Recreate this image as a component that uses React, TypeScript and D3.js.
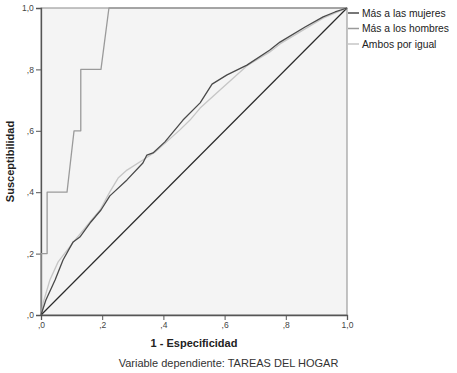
import React, { useEffect, useRef } from 'react';
import * as d3 from 'd3';

// ROC curves (1 - especificidad, susceptibilidad)
const mujeresX = [0, 0.016, 0.046, 0.072, 0.105, 0.127, 0.163, 0.196, 0.225, 0.281, 0.333, 0.346, 0.366, 0.405, 0.464, 0.52, 0.559, 0.608, 0.673, 0.748, 0.781, 0.863, 0.922, 0.961, 1];
const mujeresY = [0, 0.049, 0.114, 0.179, 0.238, 0.254, 0.303, 0.342, 0.388, 0.44, 0.495, 0.521, 0.528, 0.564, 0.635, 0.691, 0.752, 0.782, 0.814, 0.863, 0.889, 0.938, 0.971, 0.987, 1];

const hombresX = [0, 0, 0.02, 0.02, 0.085, 0.108, 0.13, 0.13, 0.196, 0.222, 1];
const hombresY = [0, 0.2, 0.2, 0.4, 0.4, 0.6, 0.6, 0.8, 0.8, 1, 1];

const igualX = [0, 0.007, 0.029, 0.056, 0.111, 0.16, 0.193, 0.225, 0.252, 0.281, 0.333, 0.373, 0.454, 0.487, 0.52, 0.585, 0.676, 0.748, 0.781, 0.863, 0.922, 1];
const igualY = [0, 0.039, 0.114, 0.173, 0.244, 0.303, 0.342, 0.401, 0.446, 0.472, 0.505, 0.531, 0.603, 0.635, 0.674, 0.733, 0.814, 0.857, 0.883, 0.932, 0.967, 1];

const refX = [0, 1];
const refY = [0, 1];

const tickValues = [0, 0.2, 0.4, 0.6, 0.8, 1];
const tickLabels = [',0', ',2', ',4', ',6', ',8', '1,0'];

const seriesNames = ['Más a las mujeres', 'Más a los hombres', 'Ambos por igual'];
const seriesColors = ['#4a4a4a', '#9a9a9a', '#c6c6c6'];

const App = () => {
  const ref = useRef<SVGSVGElement>(null);

  useEffect(() => {
    const width = 457;
    const height = 373;
    const margin = { top: 8, right: 110, bottom: 58, left: 41 };

    const svg = d3.select(ref.current);
    svg.selectAll('*').remove();
    svg.attr('width', width).attr('height', height);

    const x = d3.scaleLinear().domain([0, 1]).range([margin.left, width - margin.right]);
    const y = d3.scaleLinear().domain([0, 1]).range([height - margin.bottom, margin.top]);

    // plot background + frame
    svg.append('rect')
      .attr('x', x(0)).attr('y', y(1))
      .attr('width', x(1) - x(0)).attr('height', y(0) - y(1))
      .attr('fill', '#f4f4f4')
      .attr('stroke', '#8a8a8a')
      .attr('stroke-width', 1);

    const fontFamily = 'Liberation Sans, Arial, sans-serif';

    // axes
    const xAxis = svg.append('g')
      .attr('transform', `translate(0,${y(0)})`)
      .call(d3.axisBottom(x).tickValues(tickValues).tickSize(5).tickFormat((d, i) => tickLabels[i]));
    const yAxis = svg.append('g')
      .attr('transform', `translate(${x(0)},0)`)
      .call(d3.axisLeft(y).tickValues(tickValues).tickSize(5).tickFormat((d, i) => tickLabels[i]));

    [xAxis, yAxis].forEach(g => {
      g.select('.domain').attr('stroke', '#555').attr('stroke-width', 1.3);
      g.selectAll('.tick line').attr('stroke', '#555');
      g.selectAll('.tick text')
        .attr('fill', '#444')
        .attr('font-size', 8.5)
        .attr('font-family', fontFamily);
    });
    xAxis.selectAll('.tick text').attr('dy', '0.6em');
    yAxis.selectAll('.tick text').attr('dx', '0.1em');

    const line = d3.line<[number, number]>()
      .x(d => x(d[0]))
      .y(d => y(d[1]));

    const toPts = (xs: number[], ys: number[]) => xs.map((v, i) => [v, ys[i]] as [number, number]);

    // reference diagonal
    svg.append('path')
      .attr('d', line(toPts(refX, refY)))
      .attr('fill', 'none')
      .attr('stroke', '#2a2a2a')
      .attr('stroke-width', 1.2);

    const series = [
      toPts(mujeresX, mujeresY),
      toPts(hombresX, hombresY),
      toPts(igualX, igualY),
    ];

    // draw light first so darker lines sit on top
    [2, 1, 0].forEach(i => {
      svg.append('path')
        .attr('d', line(series[i]))
        .attr('fill', 'none')
        .attr('stroke', seriesColors[i])
        .attr('stroke-width', 1.3)
        .attr('stroke-linejoin', 'round');
    });

    // legend
    const legend = svg.append('g').attr('transform', `translate(${x(1) + 1},0)`);
    seriesNames.forEach((name, i) => {
      const ly = 13 + i * 15.5;
      legend.append('line')
        .attr('x1', 0).attr('x2', 11)
        .attr('y1', ly).attr('y2', ly)
        .attr('stroke', seriesColors[i])
        .attr('stroke-width', 1.5);
      legend.append('text')
        .attr('x', 14).attr('y', ly)
        .attr('dy', '0.35em')
        .attr('font-size', 10.3)
        .attr('font-family', fontFamily)
        .attr('fill', '#222')
        .text(name);
    });

    // axis titles
    svg.append('text')
      .attr('x', (x(0) + x(1)) / 2)
      .attr('y', 347)
      .attr('text-anchor', 'middle')
      .attr('font-size', 11)
      .attr('font-weight', 'bold')
      .attr('font-family', fontFamily)
      .attr('fill', '#222')
      .text('1 - Especificidad');

    svg.append('text')
      .attr('transform', `translate(14,${(y(0) + y(1)) / 2}) rotate(-90)`)
      .attr('text-anchor', 'middle')
      .attr('font-size', 11)
      .attr('font-weight', 'bold')
      .attr('font-family', fontFamily)
      .attr('fill', '#222')
      .text('Susceptibilidad');

    svg.append('text')
      .attr('x', width / 2)
      .attr('y', 367)
      .attr('text-anchor', 'middle')
      .attr('font-size', 11)
      .attr('font-family', fontFamily)
      .attr('fill', '#333')
      .text('Variable dependiente: TAREAS DEL HOGAR');
  }, []);

  return <svg ref={ref} style={{ position: 'absolute', left: 0, top: 0, background: '#fff' }}></svg>;
};

export default App;
